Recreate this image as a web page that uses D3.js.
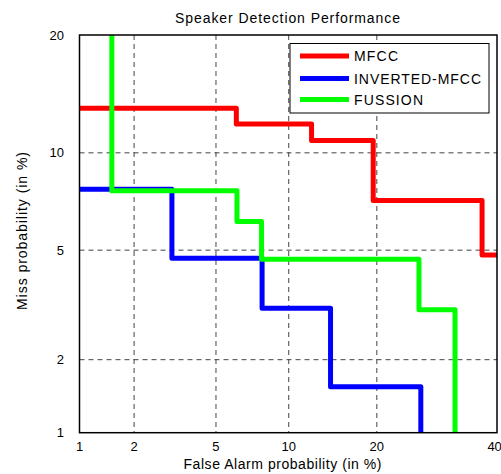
<!DOCTYPE html>
<html>
<head>
<meta charset="utf-8">
<script src="https://cdn.jsdelivr.net/npm/d3@7"></script>
<style>
  body { margin: 0; background: #fff; }
  svg { display: block; }
  text { font-family: "Liberation Sans", Arial, sans-serif; fill: #000; }
</style>
</head>
<body>
<svg id="chart" width="501" height="474"></svg>
<script>
// ---- Data (percent) ----
const title = "Speaker Detection Performance";
const xLabel = "False Alarm probability (in %)";
const yLabel = "Miss probability (in %)";
const xTicks = [1, 2, 5, 10, 20, 40];
const yTicks = [1, 2, 5, 10, 20];
const seriesNames = ["MFCC", "INVERTED-MFCC", "FUSSION"];
const seriesColors = ["#ff0000", "#0000ff", "#00ff00"];

const mfccPfa   = [0.5, 6.14, 6.14, 12.15, 12.15, 19.5, 19.5, 37.6, 37.6, 45];
const mfccPmiss = [13.25, 13.25, 12.03, 12.03, 10.83, 10.83, 7.22, 7.22, 4.82, 4.82];

const invPfa    = [0.5, 3.11, 3.11, 7.86, 7.86, 14.17, 14.17, 26.7, 26.7];
const invPmiss  = [7.82, 7.82, 4.70, 4.70, 3.13, 3.13, 1.56, 1.56, 0.5];

const fusPfa    = [1.52, 1.52, 6.18, 6.18, 7.82, 7.82, 26.4, 26.4, 32.6, 32.6];
const fusPmiss  = [30, 7.73, 7.73, 6.20, 6.20, 4.66, 4.66, 3.09, 3.09, 0.5];

// ---- inverse normal CDF (Acklam) ----
function probit(p) {
  const a = [-3.969683028665376e+01, 2.209460984245205e+02, -2.759285104469687e+02, 1.383577518672690e+02, -3.066479806614716e+01, 2.506628277459239e+00];
  const b = [-5.447609879822406e+01, 1.615858368580409e+02, -1.556989798598866e+02, 6.680131188771972e+01, -1.328068155288572e+01];
  const c = [-7.784894002430293e-03, -3.223964580411365e-01, -2.400758277161838e+00, -2.549732539343734e+00, 4.374664141464968e+00, 2.938163982698783e+00];
  const d = [7.784695709041462e-03, 3.224671290700398e-01, 2.445134137142996e+00, 3.754408661907416e+00];
  const pl = 0.02425, ph = 1 - pl;
  let q, r;
  if (p < pl) {
    q = Math.sqrt(-2 * Math.log(p));
    return (((((c[0]*q+c[1])*q+c[2])*q+c[3])*q+c[4])*q+c[5]) / ((((d[0]*q+d[1])*q+d[2])*q+d[3])*q+1);
  } else if (p <= ph) {
    q = p - 0.5; r = q * q;
    return (((((a[0]*r+a[1])*r+a[2])*r+a[3])*r+a[4])*r+a[5])*q / (((((b[0]*r+b[1])*r+b[2])*r+b[3])*r+b[4])*r+1);
  } else {
    q = Math.sqrt(-2 * Math.log(1 - p));
    return -(((((c[0]*q+c[1])*q+c[2])*q+c[3])*q+c[4])*q+c[5]) / ((((d[0]*q+d[1])*q+d[2])*q+d[3])*q+1);
  }
}

const pLeft = 79.5, pRight = 497, pTop = 35, pBottom = 432.7;
const xs = d3.scaleLinear().domain([probit(0.01), probit(0.4046)]).range([pLeft, pRight]);
const ys = d3.scaleLinear().domain([probit(0.01), probit(0.20)]).range([pBottom, pTop]);
const X = v => xs(probit(v / 100));
const Y = v => ys(probit(v / 100));

const svg = d3.select("#chart");

svg.append("defs").append("clipPath").attr("id", "clip")
  .append("rect").attr("x", pLeft).attr("y", pTop).attr("width", pRight - pLeft).attr("height", pBottom - pTop);

// grid
const grid = svg.append("g").attr("stroke", "#444").attr("stroke-width", 1).attr("stroke-dasharray", "5,4");
xTicks.filter(t => t > 1 && t < 40).forEach(t => {
  grid.append("line").attr("x1", X(t)).attr("x2", X(t)).attr("y1", pTop).attr("y2", pBottom);
});
yTicks.filter(t => t > 1 && t < 20).forEach(t => {
  grid.append("line").attr("x1", pLeft).attr("x2", pRight).attr("y1", Y(t)).attr("y2", Y(t));
});

// series
const series = [
  {pfa: mfccPfa, pmiss: mfccPmiss},
  {pfa: invPfa, pmiss: invPmiss},
  {pfa: fusPfa, pmiss: fusPmiss}
];
const line = d3.line().x(d => X(d[0])).y(d => Y(d[1]));
const plot = svg.append("g").attr("clip-path", "url(#clip)");
series.forEach((s, i) => {
  const pts = s.pfa.map((v, k) => [v, s.pmiss[k]]);
  plot.append("path").datum(pts).attr("d", line)
    .attr("fill", "none").attr("stroke", seriesColors[i])
    .attr("stroke-width", 5).attr("stroke-linejoin", "round");
});

// box
svg.append("rect").attr("x", pLeft).attr("y", pTop).attr("width", pRight - pLeft).attr("height", pBottom - pTop)
  .attr("fill", "none").attr("stroke", "#000").attr("stroke-width", 1.5);

// tick labels
xTicks.forEach(t => {
  svg.append("text").attr("x", X(t)).attr("y", 451).attr("text-anchor", "middle")
    .attr("font-size", 13).text(t);
});
yTicks.forEach(t => {
  svg.append("text").attr("x", 64).attr("y", Y(t) + 4.5).attr("text-anchor", "end")
    .attr("font-size", 13).text(t);
});

// titles
svg.append("text").attr("x", 287.5).attr("y", 23).attr("text-anchor", "middle").attr("font-size", 14)
  .attr("textLength", 225).attr("lengthAdjust", "spacing").text(title);
svg.append("text").attr("x", 282.5).attr("y", 469).attr("text-anchor", "middle").attr("font-size", 14)
  .attr("textLength", 198).attr("lengthAdjust", "spacing").text(xLabel);
svg.append("text").attr("transform", "translate(27,231) rotate(-90)").attr("text-anchor", "middle").attr("font-size", 14)
  .attr("textLength", 158).attr("lengthAdjust", "spacing").text(yLabel);

// legend
const lg = svg.append("g");
lg.append("rect").attr("x", 290).attr("y", 43.5).attr("width", 199).attr("height", 69.5)
  .attr("fill", "#fff").attr("stroke", "#000").attr("stroke-width", 1);
const rowsY = [56, 78.5, 99.5];
const legendWidths = [44, 127, 69];
seriesNames.forEach((n, i) => {
  lg.append("line").attr("x1", 300).attr("x2", 349).attr("y1", rowsY[i]).attr("y2", rowsY[i])
    .attr("stroke", seriesColors[i]).attr("stroke-width", 5);
  lg.append("text").attr("x", 354).attr("y", rowsY[i] + 5).attr("font-size", 14)
    .attr("textLength", legendWidths[i]).attr("lengthAdjust", "spacing").text(n);
});
</script>
</body>
</html>
